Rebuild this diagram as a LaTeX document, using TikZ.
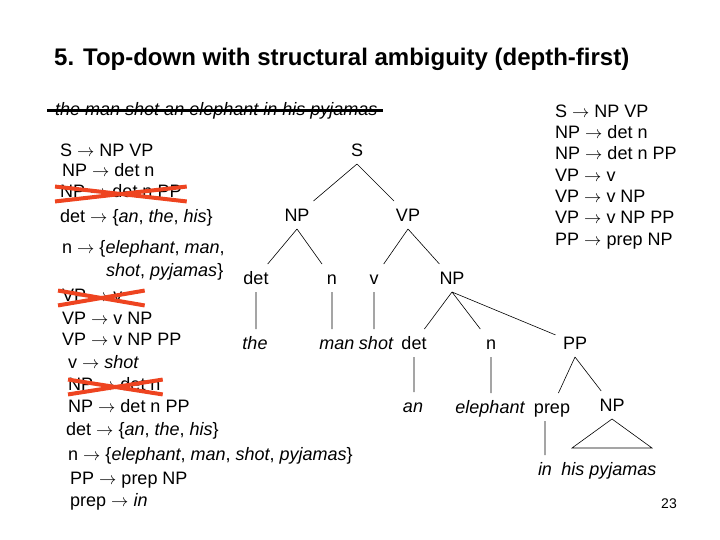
\documentclass[tikz,border=0pt]{standalone}
\usepackage{fontspec}
\setmainfont{Liberation Sans}
\usepackage{xcolor}
\usetikzlibrary{positioning}

\definecolor{xred}{RGB}{238,68,32}
\newcommand{\goes}{\ensuremath{\rightarrow}}

\tikzset{
  rule/.style={anchor=west, inner sep=0pt, font=\fontsize{18}{20}\selectfont,
    text height=13pt, text depth=3.5pt},
  cat/.style={inner sep=1.5pt, outer sep=6pt, font=\fontsize{18}{20}\selectfont,
    text height=13pt, text depth=0pt},
  word/.style={cat, font=\fontsize{18}{20}\selectfont\itshape},
  branch/.style={draw, line width=0.6pt},
  cross/.style={draw=xred, line width=4pt},
}

\begin{document}
\begin{tikzpicture}[x=1pt, y=-1pt]
        \useasboundingbox (0,0) rectangle (720,540);

        \node[anchor=west, inner sep=0pt, font=\fontsize{24}{27}\selectfont\bfseries] (title) at (54,59)
          {5. Top-down with structural ambiguity (depth-first)};
        \node[rule, font=\fontsize{18}{20}\selectfont\itshape] (sent) at (55,111)
          {the man shot an elephant in his pyjamas};
        \draw[line width=3pt] ([xshift=-8pt]sent.west) -- ([xshift=5pt]sent.east);

        % grammar, left column
        \node[rule] (r1)  at (60,152) {S \goes{} NP VP};
        \node[rule] (r2)  at (62,172) {NP \goes{} det n};
        \node[rule] (r3)  at (60,193) {NP \goes{} det n PP};
        \node[rule] (r4)  at (60,218) {det \goes{} \{\textit{an}, \textit{the}, \textit{his}\}};
        \node[rule] (r5)  at (62,249) {n \goes{} \{\textit{elephant}, \textit{man},};
        \node[rule] (r5b) at (106,272) {\textit{shot}, \textit{pyjamas}\}};
        \node[rule] (r6)  at (62,297) {VP \goes{} v};
        \node[rule] (r7)  at (62,320) {VP \goes{} v NP};
        \node[rule] (r8)  at (62,341) {VP \goes{} v NP PP};
        \node[rule] (r9)  at (68,364) {v \goes{} \textit{shot}};
        \node[rule] (r10) at (68,386) {NP \goes{} det n};
        \node[rule] (r11) at (68,408) {NP \goes{} det n PP};
        \node[rule] (r12) at (66,431) {det \goes{} \{\textit{an}, \textit{the}, \textit{his}\}};
        \node[rule] (r13) at (68,456) {n \goes{} \{\textit{elephant}, \textit{man}, \textit{shot}, \textit{pyjamas}\}};
        \node[rule] (r14) at (70,480) {PP \goes{} prep NP};
        \node[rule] (r15) at (70,502) {prep \goes{} \textit{in}};

        % rejected rules
        \draw[cross] ([xshift=-5pt,yshift=-2pt]r3.north west) -- ([xshift=5pt]r3.south east);
        \draw[cross] ([xshift=-5pt]r3.south west) -- ([xshift=5pt,yshift=-2pt]r3.north east);
        \draw[cross] ([xshift=-4pt,yshift=-2pt]r6.north west) -- ([xshift=22pt]r6.south east);
        \draw[cross] ([xshift=-4pt]r6.south west) -- ([xshift=22pt,yshift=-2pt]r6.north east);
        \draw[cross] ([yshift=-2pt]r10.north west) -- ([xshift=2pt]r10.south east);
        \draw[cross] (r10.south west) -- ([xshift=2pt,yshift=-2pt]r10.north east);

        % grammar, right column
        \node[rule] (g1) at (555,113) {S \goes{} NP VP};
        \node[rule] (g2) at (555,134) {NP \goes{} det n};
        \node[rule] (g3) at (555,155) {NP \goes{} det n PP};
        \node[rule] (g4) at (555,177) {VP \goes{} v};
        \node[rule] (g5) at (555,198) {VP \goes{} v NP};
        \node[rule] (g6) at (555,219) {VP \goes{} v NP PP};
        \node[rule] (g7) at (555,241) {PP \goes{} prep NP};

        % tree
        \node[cat] (s)    at (357,150) {S};
        \node[cat] (np1)  at (297,215) {NP};
        \node[cat] (vp)   at (408,215) {VP};
        \node[cat] (det1) at (256,278) {det};
        \node[cat] (n1)   at (332,278) {n};
        \node[cat] (v)    at (374,278) {v};
        \node[cat] (np2)  at (452,278) {NP};
        \node[word] (the)  at (255,343) {the};
        \node[word] (man)  at (337,343) {man};
        \node[word] (shot) at (376,343) {shot};
        \node[cat] (det2) at (414,343) {det};
        \node[cat] (n2)   at (491,343) {n};
        \node[cat] (pp)   at (575,343) {PP};
        \node[word] (an)   at (413,406) {an};
        \node[word] (eleph) at (490,407) {elephant};
        \node[cat] (prep) at (552,407) {prep};
        \node[cat] (np3)  at (612,405) {NP};
        \node[word] (in)   at (545,469) {in};
        \node[word] (hisp) at (609,469) {his pyjamas};
        \coordinate (tri-l) at (572,448);
        \coordinate (tri-r) at (652,448);

        \path[branch]
        (s.south) -- (np1) (s.south) -- (vp)
        (np1.south) -- (det1) (np1.south) -- (n1)
        (vp.south) -- (v) (vp.south) -- (np2)
        (det1.south) -- (det1.south |- the.north)
        (n1.south) -- (n1.south |- man.north)
        (v.south) -- (v.south |- shot.north)
        (np2.south) -- (det2) (np2.south) -- (n2) (np2.south) -- (pp)
        (det2.south) -- (det2.south |- an.north)
        (n2.south) -- (n2.south |- eleph.north)
        (pp.south) -- (prep) (pp.south) -- (np3)
        (in.north |- prep.south) -- (in.north)
        (np3.south) -- (tri-l) -- (tri-r) -- cycle;

        \node[font=\fontsize{14}{16}\selectfont, inner sep=0pt] (page) at (669,504) {23};
    \end{tikzpicture}
\end{document}
